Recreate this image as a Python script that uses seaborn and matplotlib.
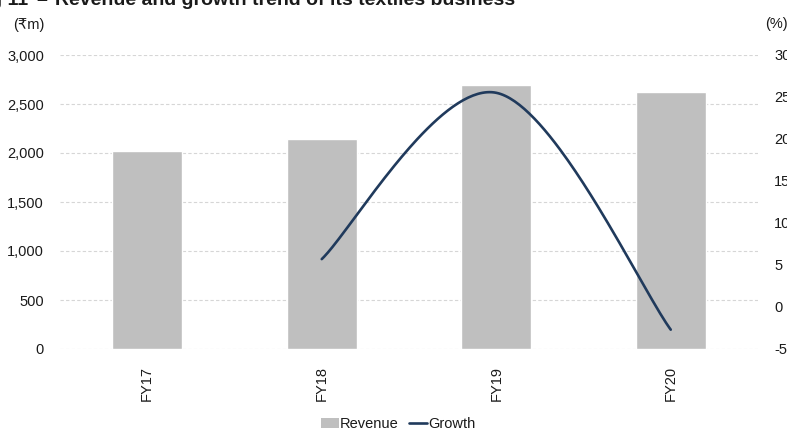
import numpy as np
import pandas as pd
import matplotlib
matplotlib.use("Agg")
import matplotlib.pyplot as plt
import seaborn as sns
from matplotlib.lines import Line2D
from matplotlib.patches import Patch

# Textiles business: annual revenue (₹m) and YoY growth (%)
years = ["FY17", "FY18", "FY19", "FY20"]
revenue = [2025, 2145, 2690, 2620]
growth_years = ["FY18", "FY19", "FY20"]
growth = [5.7, 25.5, -2.7]

left_ticks = [0, 500, 1000, 1500, 2000, 2500, 3000]
right_ticks = [-5, 0, 5, 10, 15, 20, 25, 30]

BAR_COLOR = "#bfbfbf"
LINE_COLOR = "#203a5c"
GRID_COLOR = "#d6d6d6"
TEXT_COLOR = "#1a1a1a"

sns.set_theme(style="white")
plt.rcParams["font.family"] = ["Liberation Sans", "DejaVu Sans"]
plt.rcParams["text.color"] = TEXT_COLOR
plt.rcParams["axes.labelcolor"] = TEXT_COLOR
plt.rcParams["xtick.color"] = TEXT_COLOR
plt.rcParams["ytick.color"] = TEXT_COLOR

W, H = 787, 432
fig = plt.figure(figsize=(W / 100, H / 100), dpi=100)
ax = fig.add_axes([60 / W, 83 / H, 698 / W, (349 - 55) / H])

df = pd.DataFrame({"year": years, "revenue": revenue})
sns.barplot(data=df, x="year", y="revenue", color=BAR_COLOR, width=0.4,
            saturation=1, ax=ax, zorder=2)
ax.set_xlim(-0.5, 3.5)
ax.set_ylim(0, 3000)
ax.set_yticks(left_ticks)
ax.set_yticklabels([f"{v:,}" for v in left_ticks])
ax.set_xlabel("")
ax.set_ylabel("")
ax.set_axisbelow(True)
ax.yaxis.grid(True, color=GRID_COLOR, linestyle=(0, (3, 2)), linewidth=0.8)
ax.xaxis.grid(False)
for s in ax.spines.values():
    s.set_visible(False)
ax.tick_params(axis="y", length=0, pad=11.5, labelsize=10.5)
ax.tick_params(axis="x", length=0, pad=12, labelsize=10.5, labelrotation=90)

# Growth on the secondary axis, drawn as a smoothed (Bezier) curve
ax2 = ax.twinx()
ax2.set_ylim(-5, 30)
ax2.set_yticks(right_ticks)
ax2.set_yticklabels([str(v) for v in right_ticks])
for s in ax2.spines.values():
    s.set_visible(False)
ax2.tick_params(axis="y", length=0, pad=11.5, labelsize=10.5)
ax2.grid(False)

gx = np.array([years.index(y) for y in growth_years], dtype=float)
gy = np.array(growth, dtype=float)
pts = np.column_stack([gx, gy])
curve = []
t = np.linspace(0, 1, 80)[:, None]
for i in range(len(pts) - 1):
    p0 = pts[max(i - 1, 0)]
    p1 = pts[i]
    p2 = pts[i + 1]
    p3 = pts[min(i + 2, len(pts) - 1)]
    c1 = p1 + (p2 - p0) / 6
    c2 = p2 - (p3 - p1) / 6
    seg = ((1 - t) ** 3) * p1 + 3 * ((1 - t) ** 2) * t * c1 \
        + 3 * (1 - t) * t ** 2 * c2 + t ** 3 * p2
    curve.append(seg if i == 0 else seg[1:])
curve = np.vstack(curve)
ax2.plot(curve[:, 0], curve[:, 1], color=LINE_COLOR, linewidth=1.9,
         solid_capstyle="round", zorder=3)

# Units
fig.text(45 / W, 1 - 25 / H, "(₹m)", ha="right", va="center", fontsize=10.5)
fig.text(765 / W, 1 - 24 / H, "(%)", ha="left", va="center", fontsize=10.5)

# Title
TITLE_SIZE = 14
fig.text(28 / W, 1 - 5 / H, "Fig 11", ha="right", va="baseline",
         fontsize=TITLE_SIZE, fontweight="bold")
fig.text(42 / W, 1 - 5 / H, "–", ha="center", va="baseline",
         fontsize=TITLE_SIZE, fontweight="bold")
fig.text(55 / W, 1 - 5 / H, "Revenue and growth trend of its textiles business",
         ha="left", va="baseline", fontsize=TITLE_SIZE, fontweight="bold")

handles = [Patch(facecolor=BAR_COLOR, edgecolor="none"),
           Line2D([0], [0], color=LINE_COLOR, linewidth=1.9)]
fig.legend(handles, ["Revenue", "Growth"], loc="center", ncol=2,
           bbox_to_anchor=(398 / W, 1 - 424 / H), frameon=False,
           fontsize=10.5, handlelength=1.25, handleheight=0.7,
           handletextpad=0.05, columnspacing=0.75)

fig.savefig("out.png", dpi=100)
